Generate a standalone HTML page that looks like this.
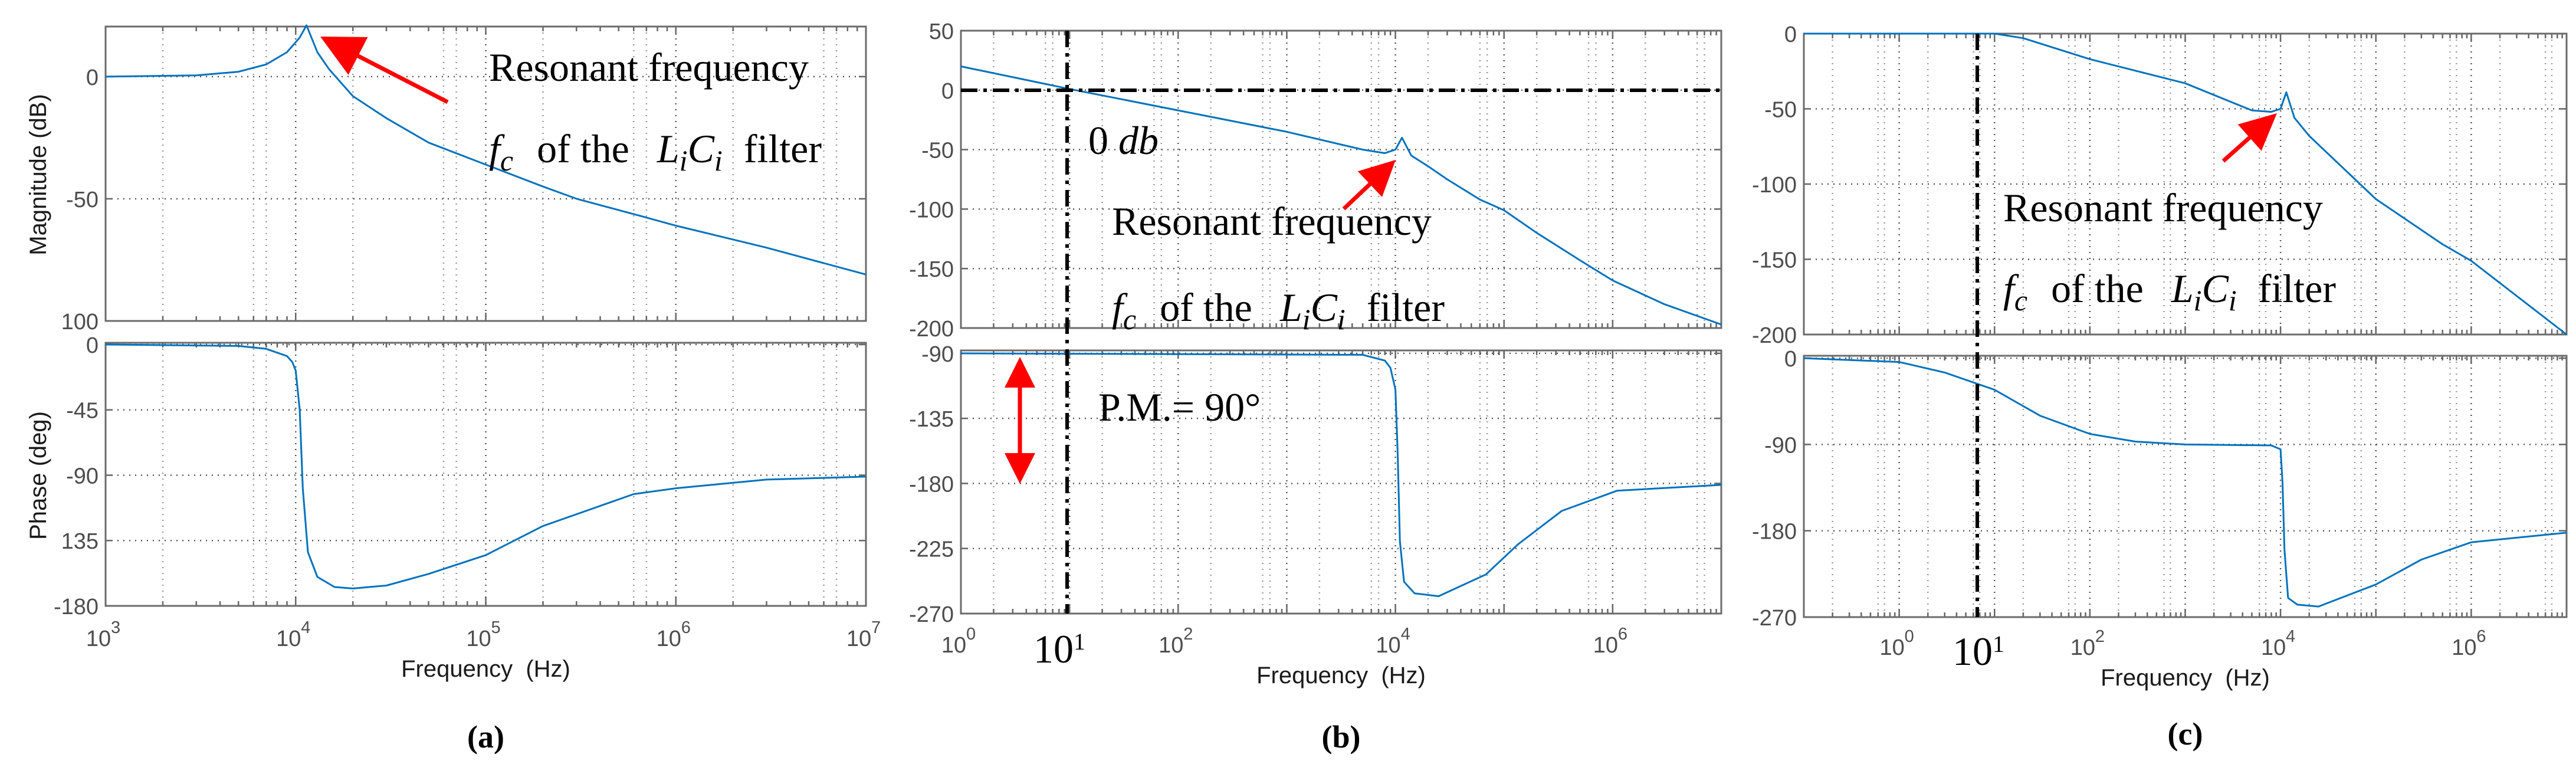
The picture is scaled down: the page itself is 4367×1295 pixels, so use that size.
<!DOCTYPE html>
<html><head><meta charset="utf-8">
<style>
html,body{margin:0;padding:0;background:#fff;}
svg{display:block;}
.tk{font-family:"Liberation Sans",sans-serif;font-size:38px;fill:#4d4d4d;}
.ax{font-family:"Liberation Sans",sans-serif;font-size:40px;fill:#1a1a1a;}
.an{font-family:"Liberation Serif",serif;font-size:68px;fill:#000;}
.pl{font-family:"Liberation Serif",serif;font-size:54px;font-weight:bold;fill:#000;}
</style></head>
<body>
<svg id="fig" width="4367" height="1295" viewBox="0 0 4367 1295" xmlns="http://www.w3.org/2000/svg"></svg>
<script>
// ---- data (a) ----
const aMagF=[1e3,3e3,5e3,7e3,9e3,1.05e4,1.14e4,1.3e4,1.5e4,2e4,3e4,5e4,1e5,2e5,3e5,6.5e5,1e6,3e6,1e7];
const aMagV=[0,0.5,2,5,10,16,21,10,3,-8,-17,-27,-36,-45,-50,-57,-61,-70,-81];
const aPhF=[1e3,5e3,7e3,9e3,9.6e3,1e4,1.05e4,1.09e4,1.16e4,1.3e4,1.6e4,2e4,3e4,5e4,1e5,2e5,6e5,1e6,3e6,1e7];
const aPhV=[0,-1,-3,-8,-12,-18,-45,-99,-143,-160,-167,-168,-166,-158,-145,-125,-103,-99,-93,-91];
// ---- data (b) ----
const bMagF=[1,10,100,1e3,5e3,8e3,1e4,1.15e4,1.4e4,2e4,3e4,6e4,1e5,2e5,5e5,1e6,3e6,1e7];
const bMagV=[20,1,-17,-35,-50,-53,-50,-40,-55,-64,-75,-92,-101,-120,-143,-160,-180,-197];
const bPhF=[1,5e3,8e3,9e3,1e4,1.05e4,1.1e4,1.2e4,1.5e4,2.5e4,6.8e4,1.35e5,3.4e5,1.1e6,1e7];
const bPhV=[-90,-91,-95,-100,-115,-160,-220,-248,-256,-258,-243,-222,-199,-185,-181];
// ---- data (c) ----
const cMagF=[0.1,10,20,100,1e3,5e3,8e3,1e4,1.15e4,1.4e4,2e4,1e5,5e5,1e6,1e7];
const cMagV=[0,0,-3,-17,-33,-51,-52,-50,-39,-56,-68,-110,-140,-151,-200];
const cPhF=[0.1,1,3,10,30,100,300,1e3,8e3,1e4,1.05e4,1.1e4,1.2e4,1.5e4,2.5e4,1e5,3e5,1e6,1e7];
const cPhV=[0,-4,-15,-33,-60,-79,-87,-90,-91,-95,-130,-200,-250,-257,-259,-236,-210,-192,-182];
// ---- ticks ----
const aMagTicks=[0,-50,-100]; const aMagTickLabels=["0","-50","100"];
const aPhTicks=[0,-45,-90,-135,-180]; const aPhTickLabels=["0","-45","-90","135","-180"];
const bMagTicks=[50,0,-50,-100,-150,-200];
const bPhTicks=[-90,-135,-180,-225,-270];
const cMagTicks=[0,-50,-100,-150,-200];
const cPhTicks=[0,-90,-180,-270];
const aXTicks=[3,4,5,6,7]; const bXTicks=[0,2,4,6]; const cXTicks=[0,2,4,6];

const NS="http://www.w3.org/2000/svg";
const svg=document.getElementById('fig');
function mk(tag,attrs,parent){const e=document.createElementNS(NS,tag);for(const k in attrs)e.setAttribute(k,attrs[k]);(parent||svg).appendChild(e);return e;}

function panel(p){
  const g=mk('g',{});
  
  
  const xs=f=>p.x0+(Math.log10(f)-p.l0)/(p.l1-p.l0)*(p.x1-p.x0);
  const axes=[
    {top:p.mTop,bot:p.mBot,v0:p.mV0,v1:p.mV1,ticks:p.mTicks,labels:p.mLabels,F:p.mF,V:p.mV,name:'magnitude'},
    {top:p.pTop,bot:p.pBot,v0:p.pV0,v1:p.pV1,ticks:p.pTicks,labels:p.pLabels,F:p.pF,V:p.pV,name:'phase'}];
  axes.forEach(a=>{
    const ys=v=>a.top+(a.v0-v)/(a.v0-a.v1)*(a.bot-a.top);
    for(let d=Math.ceil(p.l0)-1;d<=p.l1;d++){
      [1,2,6,7].forEach(m=>{
        const lg=d+Math.log10(m); if(lg<=p.l0||lg>=p.l1)return;
        const x=xs(Math.pow(10,lg));
        const l=mk('line',{x1:x,x2:x,y1:a.top,y2:a.bot,stroke:m==1?'#555':'#999','stroke-width':2.5,'stroke-dasharray':'2 8'},g);
        
        
      });
      for(let m=1;m<10;m++){
        const lg=d+Math.log10(m); if(lg<p.l0||lg>p.l1)continue;
        const x=xs(Math.pow(10,lg)); const len=m==1?14:8;
        mk('line',{x1:x,x2:x,y1:a.bot,y2:a.bot-len,stroke:'#666','stroke-width':2.5},g);
        mk('line',{x1:x,x2:x,y1:a.top,y2:a.top+len,stroke:'#666','stroke-width':2.5},g);
      }
    }
    a.ticks.forEach((t,i)=>{
      const y=ys(t);
      const gl=mk('line',{x1:p.x0,x2:p.x1,y1:y,y2:y,stroke:'#555','stroke-width':2.5,'stroke-dasharray':'2 8'},g);
      
      
      mk('line',{x1:p.x0,x2:p.x0+12,y1:y,y2:y,stroke:'#666','stroke-width':2.5},g);
      mk('line',{x1:p.x1,x2:p.x1-12,y1:y,y2:y,stroke:'#666','stroke-width':2.5},g);
      const tx=mk('text',{x:p.x0-12,y:y+14,'text-anchor':'end',class:'tk'},g);
      tx.textContent=a.labels?a.labels[i]:String(t);
      
      
    });
    const fr=mk('rect',{x:p.x0,y:a.top,width:p.x1-p.x0,height:a.bot-a.top,fill:'none',stroke:'#6b6b6b','stroke-width':3},g);
    
    
    let d='';
    a.F.forEach((f,i)=>{d+=(i?'L':'M')+xs(f).toFixed(1)+','+ys(a.V[i]).toFixed(1);});
    const path=mk('path',{d:d,fill:'none',stroke:'#0072bd','stroke-width':3,'stroke-linejoin':'round'},g);
    
    
  });
  p.xTicks.forEach(e=>{
    const x=xs(Math.pow(10,e));
    const t=mk('text',{x:x-12,y:p.xLabY,'text-anchor':'middle',class:'tk'},g);
    t.textContent='10';
    
    
    const s=mk('text',{x:x+9,y:p.xLabY-22,class:'tk'},g);
    s.style.fontSize='29px';
    s.textContent=String(e);
  });
  const xl=mk('text',{x:(p.x0+p.x1)/2,y:p.xLabY+52,'text-anchor':'middle',class:'ax'},g);
  xl.textContent='Frequency\u00a0\u00a0(Hz)';
  
  
  const pl=mk('text',{x:(p.x0+p.x1)/2,y:p.plY,'text-anchor':'middle',class:'pl'},g);
  pl.textContent='('+p.id+')';
  
  
}

panel({id:'a',x0:179,x1:1468,l0:3,l1:7,mTop:45,mBot:544,mV0:20.5,mV1:-100,pTop:581,pBot:1027,pV0:1.2,pV1:-180,
  mTicks:aMagTicks,mLabels:aMagTickLabels,pTicks:aPhTicks,pLabels:aPhTickLabels,mF:aMagF,mV:aMagV,pF:aPhF,pV:aPhV,xTicks:aXTicks,xLabY:1095,plY:1267});
panel({id:'b',x0:1629,x1:2918,l0:0,l1:7,mTop:52,mBot:556,mV0:50,mV1:-200,pTop:594,pBot:1040,pV0:-88,pV1:-270,
  mTicks:bMagTicks,pTicks:bPhTicks,mF:bMagF,mV:bMagV,pF:bPhF,pV:bPhV,xTicks:bXTicks,xLabY:1106,plY:1267});
panel({id:'c',x0:3058,x1:4351,l0:-1,l1:7,mTop:57,mBot:567,mV0:0,mV1:-200,pTop:603,pBot:1046,pV0:2.5,pV1:-270,
  mTicks:cMagTicks,pTicks:cPhTicks,mF:cMagF,mV:cMagV,pF:cPhF,pV:cPhV,xTicks:cXTicks,xLabY:1110,plY:1262});

function txt(x,y,html,name,cls){const t=mk('text',{x:x,y:y,class:cls||'an'});t.innerHTML=html;return t;}
function arrow(x1,y1,x2,y2,name,hl,hw){
  const g=mk('g',{});
  
  
  const dx=x2-x1,dy=y2-y1,L=Math.hypot(dx,dy),ux=dx/L,uy=dy/L;
  const bx=x2-ux*hl,by=y2-uy*hl;
  mk('line',{x1:x1,y1:y1,x2:bx,y2:by,stroke:'#ff0000','stroke-width':7},g);
  mk('polygon',{points:`${x2},${y2} ${bx-uy*hw},${by+ux*hw} ${bx+uy*hw},${by-ux*hw}`,fill:'#ff0000'},g);
}
const fcLine='<tspan font-style="italic">f</tspan><tspan font-style="italic" font-size="50" dy="14">c</tspan><tspan dy="-14" dx="40">of the </tspan><tspan dx="30" font-style="italic">L</tspan><tspan font-style="italic" font-size="50" dy="14">i</tspan><tspan font-style="italic" dy="-14">C</tspan><tspan font-style="italic" font-size="50" dy="14">i</tspan><tspan dy="-14" dx="36">filter</tspan>';
// (a)
txt(829,137,'Resonant frequency','annotation-resonant-a');
txt(829,275,fcLine,'annotation-fc-a');
arrow(759,173,543,62,'red-arrow-a',72,36);
// (b)
let l=mk('line',{x1:1809,x2:1809,y1:52,y2:1040,stroke:'#000','stroke-width':6,'stroke-dasharray':'28 10 6 10'});


l=mk('line',{x1:1629,x2:2918,y1:153,y2:153,stroke:'#000','stroke-width':6,'stroke-dasharray':'28 10 6 10'});


txt(1845,261,'0 <tspan font-style="italic">db</tspan>','annotation-0db');
txt(1885,398,'Resonant frequency','annotation-resonant-b');
txt(1885,544,fcLine,'annotation-fc-b');
arrow(2278,354,2366,271,'red-arrow-b',60,30);
txt(1862,713,'P.M.= 90°','annotation-phase-margin');
arrow(1729,712,1729,605,'pm-arrow-up',52,26);
arrow(1729,712,1729,820,'pm-arrow-down',52,26);
txt(1752,1123,'10<tspan font-size="40" dy="-22">1</tspan>','crossover-label-b');
// (c)
l=mk('line',{x1:3352,x2:3352,y1:57,y2:1046,stroke:'#000','stroke-width':6,'stroke-dasharray':'28 10 6 10'});


txt(3396,375,'Resonant frequency','annotation-resonant-c');
txt(3396,512,fcLine,'annotation-fc-c');
arrow(3769,273,3860,192,'red-arrow-c',62,30);
txt(3310,1127,'10<tspan font-size="40" dy="-22">1</tspan>','crossover-label-c');
[['Magnitude (dB)',65,296,'y-axis-title-magnitude'],['Phase (deg)',65,806,'y-axis-title-phase']].forEach(r=>{
  const t=mk('text',{x:r[1],y:r[2],'text-anchor':'middle',class:'ax',transform:`rotate(-90 ${r[1]} ${r[2]})`,dy:'13'});
  t.textContent=r[0];
  
  
});
</script>
</body></html>
